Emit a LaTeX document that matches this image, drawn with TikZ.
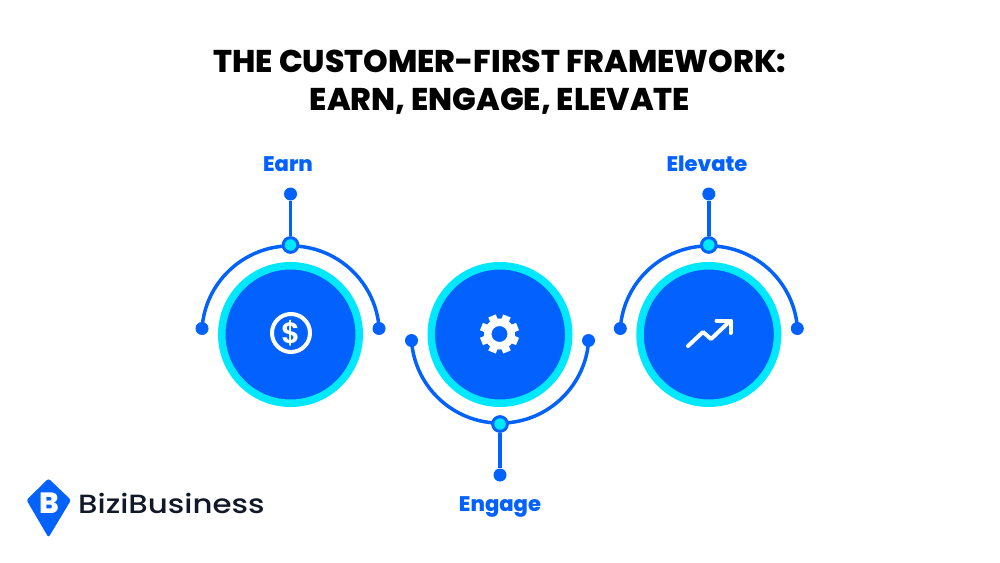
\documentclass[tikz,border=0pt]{standalone}
\usepackage{fontspec}
\setmainfont{Poppins}[BoldFont={Poppins ExtraBold}]
\newfontfamily\semifont{Poppins SemiBold}
\newfontfamily\logofont{Poppins Medium}[FakeStretch=1.17]
\usetikzlibrary{backgrounds}
\definecolor{mainblue}{HTML}{0362FE}
\definecolor{rimcyan}{HTML}{00E8FE}
\definecolor{logoink}{HTML}{111827}
\tikzset{
	disc/.style={circle,draw=rimcyan,fill=mainblue,line width=.225cm,minimum size=4.125cm,inner sep=0pt},
	enddot/.style={circle,fill=mainblue,minimum size=.39cm,inner sep=0pt},
	joint/.style={circle,draw=mainblue,fill=rimcyan,line width=.09cm,minimum size=.44cm,inner sep=0pt},
	wire/.style={mainblue,line width=.105cm},
	steplabel/.style={text=mainblue,font=\bfseries\fontsize{18}{18}\selectfont},
	icon/.style={white,line width=.12cm,line cap=round,line join=round}
}
\begin{document}
\begin{tikzpicture}[x=.03cm,y=-.03cm]
	\useasboundingbox (0,0) rectangle (1000,563);
	\node[font=\bfseries\fontsize{26.8}{32.4}\selectfont,align=center] (title) at (500,82)
		{THE CUSTOMER-FIRST FRAMEWORK:\\EARN, ENGAGE, ELEVATE};
	% top arcs and bottom arc
	\foreach \nm/\cx/\s in {earn/290.5/1,engage/500/-1,elevate/708.8/1}{
		\node[disc] (\nm) at (\cx,334.5) {};
		\node[enddot] (\nm L) at ({\cx-88.5},{334.5-6*\s}) {};
		\node[enddot] (\nm R) at ({\cx+88.5},{334.5-6*\s}) {};
		\node[joint] (\nm J) at (\cx,{334.5-89.5*\s}) {};
		\node[enddot] (\nm T) at (\cx,{334.5-140.5*\s}) {};
		\begin{scope}[on background layer]
			\draw[wire] (\nm L.center) arc[start angle={180+4*\s},delta angle={172*\s},radius=88.8];
			\draw[wire] (\nm J)--(\nm T);
		\end{scope}
	}
	\node[steplabel] (earnlabel) at (288,164) {Earn};
	\node[steplabel] (engagelabel) at (500,506.5) {Engage};
	\node[steplabel] (elevatelabel) at (707,164) {Elevate};
	% dollar
	\draw[icon] (291,333) circle (19);
	\node[white,font=\semifont\fontsize{25}{25}\selectfont] (dollar) at (291,333) {\$};
	% gear
	\foreach \a in {0,45,...,315}
	\fill[white,rotate around={\a+22.5:(499.5,334)}] (495.5,314.5) rectangle (503.5,322);
	\fill[white,even odd rule] (499.5,334) circle (15.5) (499.5,334) circle (8);
	% arrow
	\draw[icon] (688,346)--(703,332)--(711,339)--(729,322);
	\draw[icon] (716.5,320.5)--(730.5,320.5)--(730.5,333);
	% logo
	\fill[mainblue,rounded corners=2pt] (26.5,500)--(48.5,478.5)--(71,500)--(48.5,537.5)--cycle;
	\node[white,font=\bfseries\fontsize{25}{25}\selectfont] (logomark) at (49,503) {B};
	\node[text=logoink,anchor=west,inner sep=0pt,font=\logofont\fontsize{22.5}{22.5}\selectfont] (logotext) at (78,503) {BiziBusiness};
\end{tikzpicture}
\end{document}
